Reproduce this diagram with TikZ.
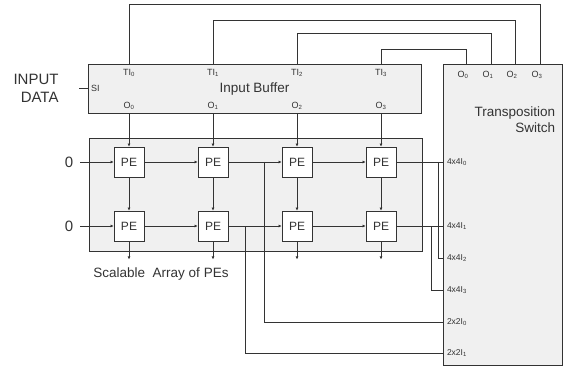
\documentclass[tikz,border=0pt]{standalone}
\usepackage{fontspec}
\setmainfont{Liberation Sans}
\usetikzlibrary{arrows.meta}

\begin{document}
\begin{tikzpicture}[
            x = 1pt, y = -1pt, % picture laid out in pixels, y downwards
            > = {Latex[length=3pt,width=3pt]}, % arrow head style
            line width = 0.9pt, % line style
            color = black!80,
            node distance = 84pt, % distance between PE columns
            panel/.style = {draw, fill=black!6, inner sep=0pt},
            pe/.style = {draw, fill=white, minimum size=30pt, inner sep=0pt,
                font=\fontsize{12}{14}\selectfont},
            port/.style = {inner sep=0pt, font=\fontsize{9}{10}\selectfont},
            swport/.style = {inner sep=0pt, anchor=west, xshift=4pt,
                font=\fontsize{8.5}{10}\selectfont},
            big/.style = {font=\fontsize{13.5}{16}\selectfont}
        ]
    \useasboundingbox (0,0) rectangle (569,371);

    % blocks
    \node[panel, big, minimum width=333pt, minimum height=48.5pt] (buf) at (254.5,88.75) {Input Buffer};
    \node[panel, minimum width=333pt, minimum height=113pt] (arr) at (255.5,194.5) {};
    \node[panel, minimum width=119pt, minimum height=300.5pt] (sw) at (502.5,214.75) {};
    \node[big, align=right, anchor=east] (swtext) at (559,120) {Transposition\\Switch};

    % PE array
    \node[pe] (pe1) at (129,162) {PE};
    \node[pe] (pe2) [right of=pe1] {PE};
    \node[pe] (pe3) [right of=pe2] {PE};
    \node[pe] (pe4) [right of=pe3] {PE};
    \node[pe] (pe5) at (129,226) {PE};
    \node[pe] (pe6) [right of=pe5] {PE};
    \node[pe] (pe7) [right of=pe6] {PE};
    \node[pe] (pe8) [right of=pe7] {PE};

    \node[big, anchor=north] (caption) at (161,264) {Scalable\ \ Array of PEs};

    % inputs
    \node[font=\fontsize{15}{18}\selectfont, align=right, anchor=east, inner sep=0pt] (indata) at (59,88) {INPUT\\DATA};
    \node[port, anchor=west, xshift=3pt] (si) at (buf.west) {SI};
    \draw (buf.west) -- ++(-9,0);
    \node[font=\fontsize{15}{18}\selectfont, inner sep=0pt] (zero1) at (69,162) {0};
    \node[font=\fontsize{15}{18}\selectfont, inner sep=0pt] (zero2) at (69,226) {0};

    % buffer ports
    \node[port] (ti0) at (pe1 |- 0,72.5) {TI\textsubscript{0}};
    \node[port] (ti1) at (pe2 |- 0,72.5) {TI\textsubscript{1}};
    \node[port] (ti2) at (pe3 |- 0,72.5) {TI\textsubscript{2}};
    \node[port] (ti3) at (pe4 |- 0,72.5) {TI\textsubscript{3}};
    \node[port] (bo0) at (pe1 |- 0,105.5) {O\textsubscript{0}};
    \node[port] (bo1) at (pe2 |- 0,105.5) {O\textsubscript{1}};
    \node[port] (bo2) at (pe3 |- 0,105.5) {O\textsubscript{2}};
    \node[port] (bo3) at (pe4 |- 0,105.5) {O\textsubscript{3}};

    % switch ports
    \coordinate (so0) at (466,64.5);
    \coordinate (so1) at (491,64.5);
    \coordinate (so2) at (515,64.5);
    \coordinate (so3) at (540,64.5);
    \node[port, xshift=-3pt] (o0) at (so0 |- 0,75) {O\textsubscript{0}};
    \node[port, xshift=-3pt] (o1) at (so1 |- 0,75) {O\textsubscript{1}};
    \node[port, xshift=-3pt] (o2) at (so2 |- 0,75) {O\textsubscript{2}};
    \node[port, xshift=-3pt] (o3) at (so3 |- 0,75) {O\textsubscript{3}};

    \coordinate (s40) at (sw.west |- pe4);
    \coordinate (s41) at (sw.west |- pe8);
    \coordinate (s42) at (sw.west |- 0,258);
    \coordinate (s43) at (sw.west |- 0,290);
    \coordinate (s20) at (sw.west |- 0,322);
    \coordinate (s21) at (sw.west |- 0,353);
    \node[swport] (l40) at (s40) {4x4I\textsubscript{0}};
    \node[swport] (l41) at (s41) {4x4I\textsubscript{1}};
    \node[swport] (l42) at (s42) {4x4I\textsubscript{2}};
    \node[swport] (l43) at (s43) {4x4I\textsubscript{3}};
    \node[swport] (l20) at (s20) {2x2I\textsubscript{0}};
    \node[swport] (l21) at (s21) {2x2I\textsubscript{1}};

    % feedback from switch to buffer
    \draw (pe1 |- buf.north) -- ++(0,-59.5) -| (so3);
    \draw (pe2 |- buf.north) -- ++(0,-43.5) -| (so2);
    \draw (pe3 |- buf.north) -- ++(0,-30.5) -| (so1);
    \draw (pe4 |- buf.north) -- ++(0,-14.5) -| (so0);

    % buffer to PEs
    \draw[->] (pe1 |- buf.south) -- (pe1);
    \draw[->] (pe2 |- buf.south) -- (pe2);
    \draw[->] (pe3 |- buf.south) -- (pe3);
    \draw[->] (pe4 |- buf.south) -- (pe4);

    % rows
    \draw[->] (zero1) ++(11,0) -- (pe1);
    \draw[->] (pe1) edge (pe2) (pe2) edge (pe3) (pe3) edge (pe4);
    \draw[->] (zero2) ++(11,0) -- (pe5);
    \draw[->] (pe5) edge (pe6) (pe6) edge (pe7) (pe7) edge (pe8);

    % columns
    \draw[->] (pe1) edge (pe5) (pe2) edge (pe6) (pe3) edge (pe7) (pe4) edge (pe8);
    \draw[->] (pe5.south) -- ++(0,18);
    \draw[->] (pe6.south) -- ++(0,18);
    \draw[->] (pe7.south) -- ++(0,18);
    \draw[->] (pe8.south) -- ++(0,18);

    % PE outputs to switch
    \draw (pe4) -- (s40);
    \draw (pe8) -- (s41);
    \draw (pe4.east) ++(42,0) |- (s42);
    \draw (pe8.east) ++(35,0) |- (s43);
    \draw (pe2.east) ++(36,0) |- (s20);
    \draw (pe6.east) ++(17,0) |- (s21);
\end{tikzpicture}
\end{document}
